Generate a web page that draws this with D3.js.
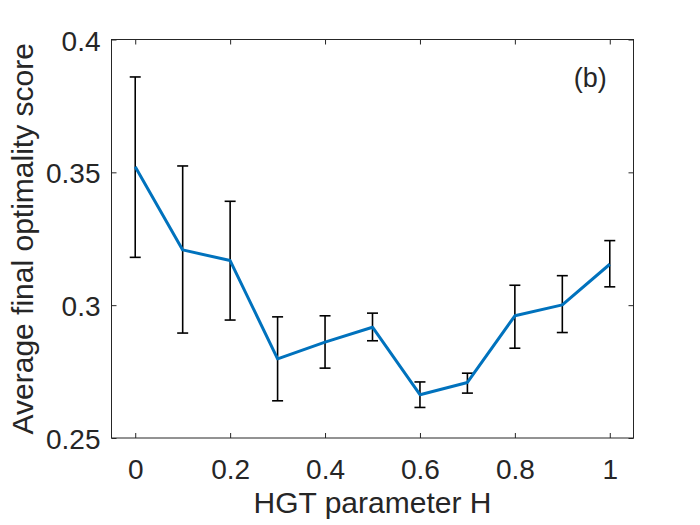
<!DOCTYPE html>
<html>
<head>
<meta charset="utf-8">
<script src="https://cdn.jsdelivr.net/npm/d3@7"></script>
<style>
  body { margin: 0; background: #fff; }
  svg text { font-family: "Liberation Sans", Arial, Helvetica, sans-serif; fill: #262626; }
</style>
</head>
<body>
<div id="chart"></div>
<script>
// data
const hValues = [0, 0.1, 0.2, 0.3, 0.4, 0.5, 0.6, 0.7, 0.8, 0.9, 1.0];
const meanScore = [0.3521, 0.3208, 0.3168, 0.2798, 0.2861, 0.2917, 0.2663, 0.2709, 0.2960, 0.3001, 0.3154];
const errUpper = [0.3859, 0.3524, 0.3391, 0.2956, 0.2960, 0.2970, 0.2711, 0.2744, 0.3075, 0.3111, 0.3243];
const errLower = [0.3180, 0.2895, 0.2944, 0.2640, 0.2763, 0.2866, 0.2615, 0.2669, 0.2838, 0.2897, 0.3069];
const xTicks = [0, 0.2, 0.4, 0.6, 0.8, 1];
const yTicks = [0.25, 0.3, 0.35, 0.4];
const panelLabel = "(b)";

const W = 700, H = 525;
const margin = { top: 39.5, right: 66.5, bottom: 87, left: 111.5 };
const width = W - margin.left - margin.right;
const height = H - margin.top - margin.bottom;
const axisColor = "#262626";
const tickLen = 5;

const points = hValues.map((h, i) => ({
    h: h, mean: meanScore[i], hi: errUpper[i], lo: errLower[i]
}));

const svg = d3.select("#chart")
    .append("svg")
    .attr("width", W)
    .attr("height", H);

const g = svg.append("g")
    .attr("transform", `translate(${margin.left},${margin.top})`);

const x = d3.scaleLinear().domain([-0.05, 1.05]).range([0, width]);
const y = d3.scaleLinear().domain([0.25, 0.4]).range([height, 0]);

// axes (ticks inward, box on)
const fmt = d => d3.format("")(+d.toFixed(2));

const xAxis = g.append("g")
    .attr("transform", `translate(0,${height})`)
    .call(d3.axisBottom(x).tickValues(xTicks).tickSize(-tickLen).tickPadding(0).tickFormat(fmt));
xAxis.selectAll("text").remove();
xAxis.selectAll(".tick").append("text")
    .attr("y", 41)
    .attr("text-anchor", "middle")
    .style("font-size", "28px")
    .text(fmt);

const xTop = g.append("g")
    .call(d3.axisTop(x).tickValues(xTicks).tickSize(-tickLen).tickFormat(""));

const yAxis = g.append("g")
    .call(d3.axisLeft(y).tickValues(yTicks).tickSize(-tickLen).tickFormat(""));
yAxis.selectAll(".tick").append("text")
    .attr("x", -11)
    .attr("y", 10.5)
    .attr("text-anchor", "end")
    .style("font-size", "28px")
    .text(fmt);

const yRight = g.append("g")
    .attr("transform", `translate(${width},0)`)
    .call(d3.axisRight(y).tickValues(yTicks).tickSize(-tickLen).tickFormat(""));

[xAxis, xTop, yAxis, yRight].forEach(a => {
    a.select(".domain").remove();
    a.selectAll(".tick line").attr("stroke", axisColor).attr("stroke-width", 1);
});

g.append("rect")
    .attr("width", width)
    .attr("height", height)
    .attr("fill", "none")
    .attr("stroke", axisColor)
    .attr("stroke-width", 1);

// error bars
const capHalf = 5.5;
const bars = g.selectAll("g.err")
    .data(points)
    .enter()
    .append("g")
    .attr("class", "err");
bars.append("line")
    .attr("x1", d => x(d.h)).attr("x2", d => x(d.h))
    .attr("y1", d => y(d.lo)).attr("y2", d => y(d.hi));
bars.append("line")
    .attr("x1", d => x(d.h) - capHalf).attr("x2", d => x(d.h) + capHalf)
    .attr("y1", d => y(d.hi)).attr("y2", d => y(d.hi));
bars.append("line")
    .attr("x1", d => x(d.h) - capHalf).attr("x2", d => x(d.h) + capHalf)
    .attr("y1", d => y(d.lo)).attr("y2", d => y(d.lo));
bars.selectAll("line")
    .attr("stroke", "#000")
    .attr("stroke-width", 1.6);

// mean line
g.append("path")
    .datum(points)
    .attr("fill", "none")
    .attr("stroke", "#0072BD")
    .attr("stroke-width", 3)
    .attr("stroke-linejoin", "round")
    .attr("d", d3.line().x(d => x(d.h)).y(d => y(d.mean)));

// panel label
g.append("text")
    .attr("x", 606.7 - margin.left)
    .attr("y", 87 - margin.top)
    .attr("text-anchor", "end")
    .style("font-size", "27px")
    .text(panelLabel);

// axis labels
svg.append("text")
    .attr("x", margin.left + width / 2)
    .attr("y", 513)
    .attr("text-anchor", "middle")
    .style("font-size", "30px")
    .text("HGT parameter H");

svg.append("text")
    .attr("transform", `translate(33,${margin.top + height / 2}) rotate(-90)`)
    .attr("text-anchor", "middle")
    .style("font-size", "30px")
    .text("Average final optimality score");
</script>
</body>
</html>
